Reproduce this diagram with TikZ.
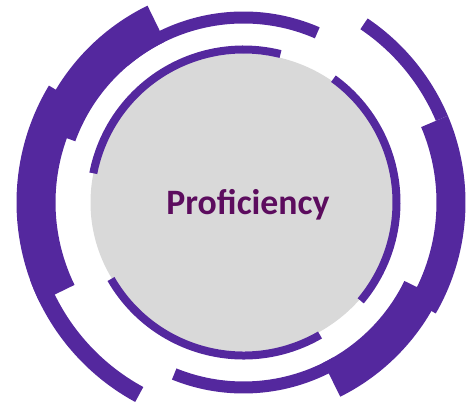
\documentclass[tikz,border=0pt]{standalone}
\usepackage{fontspec}
\setmainfont{Carlito}
\definecolor{ringpurple}{RGB}{84,40,158}
\definecolor{titleplum}{RGB}{92,12,94}
\definecolor{discgray}{RGB}{217,217,217}
\tikzset{%
  band/.style={fill=ringpurple, draw=none},
  disc/.style={fill=discgray, draw=none},
  title/.style={font=\bfseries\fontsize{30.5}{36}\selectfont, text=titleplum, inner sep=0pt}
}
% annular sector: start angle, end angle, inner radius, outer radius
\newcommand{\ringpart}[4]{%
  \fill[band] (#1:#3) arc[start angle=#1, end angle=#2, radius=#3]
    -- (#2:#4) arc[start angle=#2, end angle=#1, radius=#4] -- cycle;
}

\begin{document}
\begin{tikzpicture}[x=0.03cm, y=0.03cm]
  \useasboundingbox (0,0) rectangle (467,405);
  \coordinate (c) at (243.5,202.5);

  \fill[disc] (c) ellipse[x radius=153, y radius=149];

  \begin{scope}[shift={(c)}]
    % thin inner ring
    \ringpart{76}{169}{149}{157}
    \ringpart{-40}{54}{149}{157}
    \ringpart{210}{300}{149}{157}

    % middle ring
    \ringpart{66.5}{130}{179}{191}
    \ringpart{248}{300}{179}{191}

    % outer blocks, left side
    \ringpart{116}{160}{179}{219}
    \ringpart{149}{206}{188}{227}
    \ringpart{200}{241.5}{210}{227}

    % outer blocks, right side
    \ringpart{23}{56}{209}{222}
    \ringpart{-30}{23}{193}{222}
    \ringpart{-63.5}{-26}{179}{217}
  \end{scope}

  \node[title, anchor=base] (label) at (248,190) {Proficiency};
\end{tikzpicture}
\end{document}
